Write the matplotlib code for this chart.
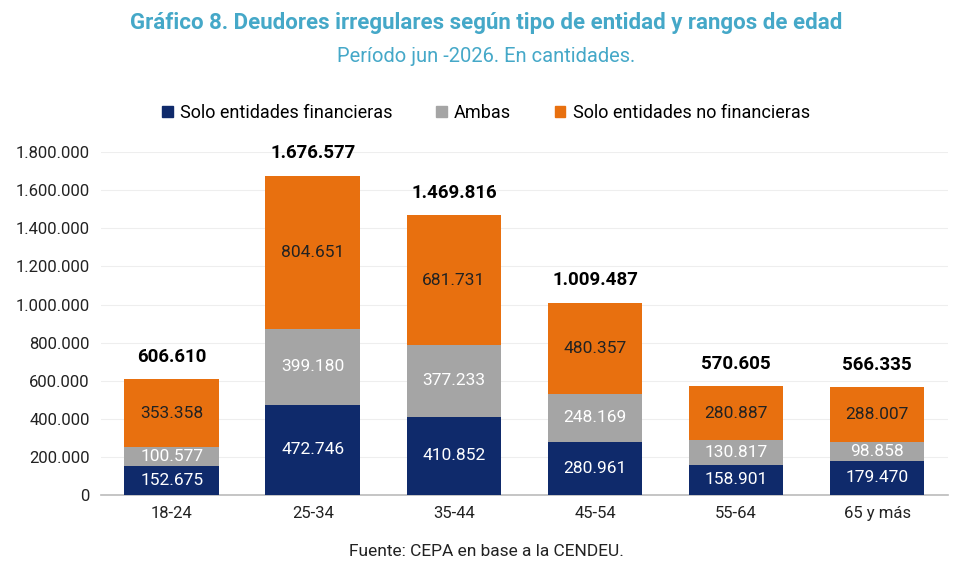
import matplotlib.pyplot as plt
import numpy as np
from matplotlib.patches import Patch

plt.rcParams['font.family'] = ['Roboto', 'DejaVu Sans']

categorias = ['18-24', '25-34', '35-44', '45-54', '55-64', '65 y más']
solo_financieras = [152675, 472746, 410852, 280961, 158901, 179470]
ambas = [100577, 399180, 377233, 248169, 130817, 98858]
solo_no_financieras = [353358, 804651, 681731, 480357, 280887, 288007]
totales = [606610, 1676577, 1469816, 1009487, 570605, 566335]

c_fin = '#0f2a6b'
c_amb = '#a5a5a5'
c_nofin = '#e8700f'
c_title = '#45a8c8'

def fmt(v):
    return f'{v:,.0f}'.replace(',', '.')

fig = plt.figure(figsize=(9.72, 5.81), dpi=100)
ax = fig.add_axes([0.104, 0.148, 0.871, 0.590])

x = np.arange(len(categorias))
w = 0.67
fin = np.array(solo_financieras)
amb = np.array(ambas)
nof = np.array(solo_no_financieras)

ax.bar(x, fin, w, color=c_fin, zorder=3)
ax.bar(x, amb, w, bottom=fin, color=c_amb, zorder=3)
ax.bar(x, nof, w, bottom=fin + amb, color=c_nofin, zorder=3)

for i in range(len(x)):
    ax.text(x[i], fin[i] / 2, fmt(fin[i]), ha='center', va='center', color='white', fontsize=12.5, zorder=4)
    ax.text(x[i], fin[i] + amb[i] / 2, fmt(amb[i]), ha='center', va='center', color='white', fontsize=12.5, zorder=4)
    ax.text(x[i], fin[i] + amb[i] + nof[i] / 2, fmt(nof[i]), ha='center', va='center', color='#222222', fontsize=12.5, zorder=4)
    ax.text(x[i], totales[i] + 70000, fmt(totales[i]), ha='center', va='bottom', color='black',
            fontsize=13.5, fontweight='bold', zorder=4)

ax.set_xlim(-0.5, len(x) - 0.5)
ax.set_ylim(0, 1800000)
yt = np.arange(0, 1800001, 200000)
ax.set_yticks(yt)
ax.set_yticklabels([fmt(v) for v in yt], fontsize=12, color='#222222')
ax.set_xticks(x)
ax.set_xticklabels(categorias, fontsize=12, color='#222222')
ax.tick_params(length=0, pad=8)
ax.yaxis.grid(True, color='#eeeeee', linewidth=0.8, zorder=0)
for s in ['top', 'right', 'left']:
    ax.spines[s].set_visible(False)
ax.spines['bottom'].set_color('#bbbbbb')
ax.spines['bottom'].set_linewidth(1.2)

fig.text(0.5, 0.96, 'Gráfico 8. Deudores irregulares según tipo de entidad y rangos de edad',
         ha='center', va='center', color=c_title, fontsize=16, fontweight='bold')
fig.text(0.5, 0.902, 'Período jun -2026. En cantidades.', ha='center', va='center',
         color=c_title, fontsize=14.5)

handles = [Patch(color=c_fin), Patch(color=c_amb), Patch(color=c_nofin)]
labels = ['Solo entidades financieras', 'Ambas', 'Solo entidades no financieras']
fig.legend(handles, labels, loc='center', bbox_to_anchor=(0.5, 0.806), ncol=3, frameon=False,
           fontsize=13, handlelength=0.6, handleheight=0.6, handletextpad=0.4, columnspacing=2.4)

fig.text(0.5, 0.05, 'Fuente: CEPA en base a la CENDEU.', ha='center', va='center',
         fontsize=12.5, color='#222222')

fig.savefig('out.png', dpi=100)
